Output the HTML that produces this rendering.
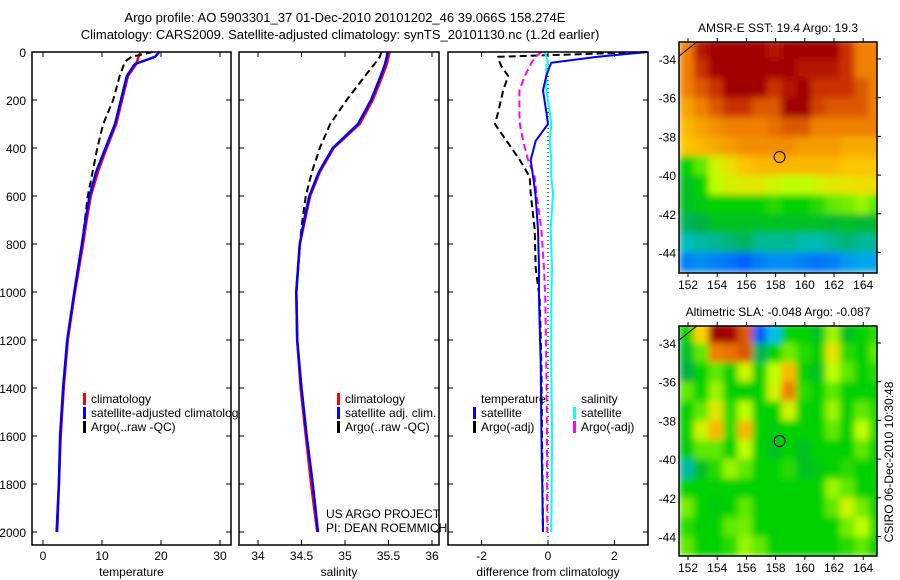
<!DOCTYPE html>
<html><head><meta charset="utf-8">
<style>
body{margin:0;background:#fff;}
svg{display:block;font-family:"Liberation Sans",sans-serif;}
text{fill:#000;}
</style></head>
<body>
<svg id="fig" width="900" height="580" viewBox="0 0 900 580" xmlns="http://www.w3.org/2000/svg">
<defs>
<filter id="smooth" x="-5%" y="-5%" width="110%" height="110%"><feGaussianBlur stdDeviation="3.5" edgeMode="duplicate"/></filter>
</defs>
<rect width="900" height="580" fill="#fff"/>
<text x="345" y="22" font-size="13" text-anchor="middle">Argo profile: AO 5903301_37 01-Dec-2010 20101202_46 39.066S 158.274E</text>
<text x="340" y="39" font-size="13" text-anchor="middle">Climatology: CARS2009. Satellite-adjusted climatology: synTS_20101130.nc (1.2d earlier)</text>
<g id="panels"></g>
</svg>
<script>
// ---------- Data ----------
const depthTicks = [0,200,400,600,800,1000,1200,1400,1600,1800,2000];
const tempTicks = [0,10,20,30];
const salTicks = [34,34.5,35,35.5,36];
const diffTicks = [-2,0,2];

const tDepth = [0,20,50,100,200,300,400,500,600,700,800,1000,1200,1400,1600,1800,2000];
const tClim  = [16.5,16.2,15.8,14.4,13.4,12.4,10.8,9.3,8.1,7.4,6.8,5.4,4.2,3.5,3.0,2.7,2.4];
const tSat   = [19.7,19.0,15.6,14.2,13.2,12.2,10.6,9.0,7.9,7.2,6.6,5.3,4.1,3.4,2.9,2.7,2.3];
const aDepth = [0,20,40,100,200,300,400,500,600,700,800,1000];
const tArgo  = [18.6,15.0,13.9,13.0,11.9,10.2,9.2,8.4,7.6,7.1,6.6,5.3];

const sClim = [35.51,35.5,35.48,35.43,35.32,35.17,34.87,34.71,34.6,34.54,34.48,34.44,34.45,34.49,34.55,34.61,34.68];
const sSat  = [35.49,35.48,35.46,35.41,35.30,35.15,34.86,34.70,34.59,34.53,34.48,34.44,34.45,34.50,34.56,34.63,34.69];
const sArgo = [35.42,35.40,35.36,35.23,35.02,34.83,34.71,34.62,34.55,34.51,34.48,34.44];

const dDepth = [0,20,45,60,100,160,250,300,370,450,520,590,740,900,1030,1300,1600,2000];
const dTempSat = [3.0,1.5,0.1,0.05,-0.05,-0.15,-0.05,0.0,-0.37,-0.52,-0.45,-0.38,-0.3,-0.27,-0.27,-0.22,-0.2,-0.15];
const dTempArgo = [3.0,-1.5,-1.45,-1.4,-1.2,-1.35,-1.5,-1.6,-1.25,-0.85,-0.55,-0.52,-0.4,-0.37,-0.25,-0.2,-0.18,-0.15];
const dSalSat = [-0.1,-0.05,0.0,-0.05,-0.05,-0.05,0.05,0.1,0.05,0.1,0.1,0.15,0.08,0.12,0.1,0.1,0.12,0.1];
const dSalArgo = [-0.2,-0.37,-0.5,-0.55,-0.7,-0.86,-0.86,-0.85,-0.75,-0.6,-0.4,-0.35,-0.2,-0.12,-0.08,-0.05,-0.03,-0.02];

const lonTicks = [152,154,156,158,160,162,164];
const latTicks = [-34,-36,-38,-40,-42,-44];
const gridLon0 = 151.4;
const gridLat0 = -33.0;
const sstGrid = [
 [0.8,0.95,1,1,1,1,0.95,1,1,1,1,0.9,0.8,0.8],
 [0.8,0.9,1,1,1,1,1,1,0.95,0.95,0.95,0.9,0.8,0.8],
 [0.8,0.85,0.9,1,1,1,0.9,0.95,1,0.9,0.9,0.9,0.85,0.8],
 [0.75,0.8,0.85,0.9,0.9,0.85,0.85,1,1,0.88,0.85,0.85,0.85,0.8],
 [0.72,0.75,0.78,0.8,0.8,0.8,0.82,0.85,0.85,0.8,0.8,0.8,0.8,0.8],
 [0.7,0.72,0.74,0.76,0.78,0.78,0.78,0.78,0.76,0.76,0.76,0.74,0.74,0.74],
 [0.5,0.55,0.62,0.66,0.7,0.72,0.72,0.72,0.72,0.72,0.72,0.7,0.7,0.7],
 [0.46,0.5,0.6,0.63,0.64,0.64,0.62,0.6,0.6,0.62,0.64,0.65,0.66,0.66],
 [0.46,0.48,0.5,0.5,0.5,0.5,0.52,0.5,0.5,0.52,0.55,0.56,0.58,0.55],
 [0.4,0.42,0.46,0.46,0.46,0.46,0.46,0.46,0.46,0.46,0.44,0.46,0.44,0.44],
 [0.33,0.35,0.36,0.38,0.4,0.36,0.36,0.36,0.34,0.34,0.36,0.38,0.36,0.36],
 [0.2,0.22,0.2,0.18,0.15,0.2,0.22,0.22,0.2,0.18,0.2,0.24,0.26,0.26]
];
const slaGrid = [
 [0.5,0.68,1,1,0.85,0.15,0.3,0.5,0.5,0.46,0.58,0.46,0.5,0.52],
 [0.46,0.55,0.8,0.82,0.85,0.4,0.5,0.56,0.52,0.5,0.65,0.52,0.5,0.55],
 [0.42,0.5,0.55,0.5,0.62,0.5,0.6,0.72,0.5,0.46,0.6,0.55,0.5,0.52],
 [0.55,0.5,0.58,0.5,0.5,0.5,0.62,0.8,0.52,0.5,0.55,0.5,0.5,0.5],
 [0.5,0.55,0.64,0.52,0.6,0.5,0.5,0.62,0.5,0.5,0.58,0.5,0.55,0.52],
 [0.5,0.62,0.72,0.52,0.72,0.5,0.48,0.5,0.5,0.5,0.55,0.5,0.6,0.52],
 [0.48,0.55,0.55,0.5,0.6,0.5,0.46,0.5,0.46,0.5,0.5,0.5,0.55,0.5],
 [0.35,0.46,0.52,0.58,0.55,0.5,0.5,0.52,0.46,0.48,0.5,0.52,0.5,0.5],
 [0.5,0.5,0.5,0.5,0.5,0.5,0.5,0.5,0.5,0.5,0.58,0.55,0.5,0.5],
 [0.56,0.5,0.48,0.5,0.55,0.5,0.5,0.5,0.5,0.5,0.55,0.62,0.56,0.5],
 [0.52,0.5,0.5,0.55,0.56,0.5,0.5,0.5,0.5,0.5,0.5,0.56,0.6,0.52],
 [0.55,0.5,0.5,0.52,0.58,0.55,0.5,0.5,0.5,0.5,0.5,0.52,0.55,0.5]
];
const argoLon = 158.274, argoLat = -39.066;

// ---------- helpers ----------
const NS = "http://www.w3.org/2000/svg";
const root = document.getElementById('panels');
function mk(tag, attrs, parent){const e=document.createElementNS(NS,tag);for(const k in attrs)e.setAttribute(k,attrs[k]);(parent||root).appendChild(e);return e;}
function txt(x,y,s,anchor,size,parent){const t=mk('text',{x:x,y:y,'font-size':size||12,'text-anchor':anchor||'start'},parent);t.textContent=s;return t;}

const TOP=52, BOT=545;
const yD = d => 52 + d*0.24;

function panel(name,x0,x1,xs,xt,xlabel,showY){
  const g=mk('g',{});
  
  
  const bg=mk('rect',{x:x0,y:TOP,width:x1-x0,height:BOT-TOP,fill:'#fff'},g);
  
  
  xt.forEach(v=>{
    const X=xs(v);
    mk('line',{x1:X,x2:X,y1:TOP,y2:TOP+5,stroke:'#000'},g);
    mk('line',{x1:X,x2:X,y1:BOT,y2:BOT-5,stroke:'#000'},g);
    const t=txt(X,560,String(v),'middle',12,g);
    
    
  });
  depthTicks.forEach(d=>{
    const Y=yD(d);
    mk('line',{x1:x0,x2:x0+5,y1:Y,y2:Y,stroke:'#000'},g);
    mk('line',{x1:x1,x2:x1-5,y1:Y,y2:Y,stroke:'#000'},g);
    if(showY){const t=txt(x0-6,Y+5,String(d),'end',12,g);
      
      }
  });
  const xl=txt((x0+x1)/2,576,xlabel,'middle',12,g);
  
  
  return g;
}
function frame(x0,x1,g){mk('rect',{x:x0,y:TOP,width:x1-x0,height:BOT-TOP,fill:'none',stroke:'#000','stroke-width':1.5},g);}
function line(g,xs,xv,dv,color,w,dash,nm){
  const pts=xv.map((v,i)=>xs(v).toFixed(1)+','+yD(dv[i]).toFixed(1)).join(' ');
  const a={points:pts,fill:'none',stroke:color,'stroke-width':w,'stroke-linejoin':'round'};
  if(dash)a['stroke-dasharray']=dash;
  const p=mk('polyline',a,g);
  
  
}
function legend(g,x,y,color,label,nm){
  const r=mk('rect',{x:x,y:y-10,width:3,height:12,fill:color},g);
  
  
  const t=txt(x+8,y,label,'start',12,g);
  
  
}

// ---------- panel 1: temperature ----------
const xT = v => 43 + v*5.9;
const g1=panel('temperature-panel',32,231,xT,tempTicks,'temperature',true);
line(g1,xT,tClim,tDepth,'#ff0000',2.5,null,'temp-climatology-line');
line(g1,xT,tArgo,aDepth,'#000',2,'7,4','temp-argo-line');
line(g1,xT,tSat,tDepth,'#0000ff',2.5,null,'temp-satellite-line');
legend(g1,83,403,'#ff0000','climatology','legend-climatology');
legend(g1,83,417,'#0000ff','satellite-adjusted climatology','legend-satellite-adjusted');
legend(g1,83,431,'#000','Argo(..raw -QC)','legend-argo');
frame(32,231,g1);

// ---------- panel 2: salinity ----------
const xS = v => 258 + (v-34)*87;
const g2=panel('salinity-panel',239,439,xS,salTicks,'salinity',false);
line(g2,xS,sClim,tDepth,'#ff0000',2.5,null,'sal-climatology-line');
line(g2,xS,sArgo,aDepth,'#000',2,'7,4','sal-argo-line');
line(g2,xS,sSat,tDepth,'#0000ff',2.5,null,'sal-satellite-line');
legend(g2,337,403,'#ff0000','climatology','legend-sal-climatology');
legend(g2,337,417,'#0000ff','satellite adj. clim.','legend-sal-satellite');
legend(g2,337,431,'#000','Argo(..raw -QC)','legend-sal-argo');
const c1=txt(326,518,'US ARGO PROJECT','start',12,g2);

const c2=txt(326,532,'PI: DEAN ROEMMICH','start',12,g2);

frame(239,439,g2);

// ---------- panel 3: differences ----------
const xDf = v => 548 + v*33.2;
const g3=panel('difference-panel',448,648,xDf,diffTicks,'difference from climatology',false);
const zl=mk('line',{x1:xDf(0),x2:xDf(0),y1:TOP,y2:BOT,stroke:'#000','stroke-dasharray':'1,3'},g3);

line(g3,xDf,dTempArgo,dDepth,'#000',2,'7,4','diff-temp-argo-line');
line(g3,xDf,dSalArgo,dDepth,'#ff00ff',2,'7,4','diff-sal-argo-line');
line(g3,xDf,dSalSat,dDepth,'#00ffff',2,null,'diff-sal-satellite-line');
line(g3,xDf,dTempSat,dDepth,'#0000ff',2,null,'diff-temp-satellite-line');
const lt=txt(481,403,'temperature','start',12,g3);

legend(g3,473,417,'#0000ff','satellite','legend-diff-temp-satellite');
legend(g3,473,431,'#000','Argo(-adj)','legend-diff-temp-argo');
const ls=txt(581,403,'salinity','start',12,g3);

legend(g3,573,417,'#00ffff','satellite','legend-diff-sal-satellite');
legend(g3,573,431,'#ff00ff','Argo(-adj)','legend-diff-sal-argo');
frame(448,648,g3);

// ---------- maps ----------
const stops=[[0,[0,32,160]],[0.15,[0,96,255]],[0.3,[0,192,230]],[0.42,[0,176,64]],[0.5,[0,210,0]],[0.6,[190,255,0]],[0.68,[255,210,0]],[0.8,[240,128,0]],[0.9,[200,50,0]],[1,[160,0,0]]];
function cmap(v){
  for(let i=1;i<stops.length;i++){
    if(v<=stops[i][0]){const a=stops[i-1],b=stops[i];const t=(v-a[0])/(b[0]-a[0]);
      const c=a[1].map((x,k)=>Math.round(x+(b[1][k]-x)*t));return 'rgb('+c.join(',')+')';}
  }
  return 'rgb(160,0,0)';
}
function map(name,grid,y0,y1,latRef,title,showLon){
  const x0=679,x1=877;
  const xL = lon => 688 + (lon-152)*14.6;
  const yL = lat => latRef + (-34-lat)*19.35;
  const g=mk('g',{});
  
  
  const clipId=name+'-clip';
  const cp=mk('clipPath',{id:clipId},g);
  mk('rect',{x:x0,y:y0,width:x1-x0,height:y1-y0},cp);
  const outer=mk('g',{'clip-path':'url(#'+clipId+')'},g);
  const cells=mk('g',{filter:'url(#smooth)'},outer);
  grid.forEach((row,i)=>row.forEach((v,j)=>{
    const xa=xL(gridLon0+j), xb=xL(gridLon0+j+1), ya=yL(gridLat0-i), yb=yL(gridLat0-i-1);
    const r=mk('rect',{x:xa.toFixed(1),y:ya.toFixed(1),width:(xb-xa+0.6).toFixed(1),height:(yb-ya+0.6).toFixed(1),fill:cmap(v)},cells);
    
    
  }));
  mk('line',{x1:x0,y1:yL(-33.85),x2:xL(152.6),y2:y0,stroke:'#000','stroke-width':1},outer);
  const c=mk('circle',{cx:xL(argoLon),cy:yL(argoLat),r:5.5,fill:'none',stroke:'#000','stroke-width':1},g);
  
  
  mk('rect',{x:x0,y:y0,width:x1-x0,height:y1-y0,fill:'none',stroke:'#000','stroke-width':1.5},g);
  lonTicks.forEach(l=>{const X=xL(l);
    mk('line',{x1:X,x2:X,y1:y0,y2:y0-4,stroke:'#000'},g);
    mk('line',{x1:X,x2:X,y1:y1,y2:y1+4,stroke:'#000'},g);
    if(showLon){const t=txt(X,y1+16,String(l),'middle',12,g);
      
      }
  });
  latTicks.forEach(l=>{const Y=yL(l);
    mk('line',{x1:x1,x2:x1+4,y1:Y,y2:Y,stroke:'#000'},g);
    const t=txt(676,Y+5,String(l),'end',12,g);
    
    
  });
  const tt=txt(778,y0-10,title,'middle',12,g);
  
  
}
map('sst-map',sstGrid,42,273,59,'AMSR-E SST: 19.4  Argo: 19.3',true);
map('sla-map',slaGrid,326,556,343,'Altimetric SLA: -0.048  Argo: -0.087',true);

const st=txt(0,0,'CSIRO 06-Dec-2010 10:30:48','middle',12);
st.setAttribute('transform','translate(893,462) rotate(-90)');


</script>
</body></html>
